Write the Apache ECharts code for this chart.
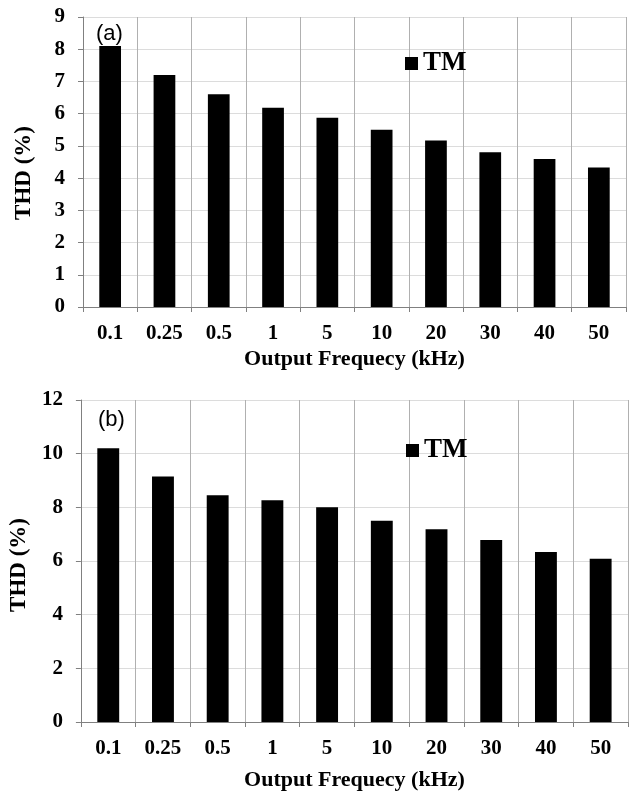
<!DOCTYPE html>
<html>
<head>
<meta charset="utf-8">
<script src="https://cdn.jsdelivr.net/npm/echarts@6/dist/echarts.min.js"></script>
<style>
  html, body { margin: 0; padding: 0; background: #fff; }
  #chart { width: 629px; height: 795px; }
</style>
</head>
<body>
<div id="chart"></div>
<script>
// categories shared by both panels
const frequencies = ['0.1', '0.25', '0.5', '1', '5', '10', '20', '30', '40', '50'];
// THD values (%)
const thdA = [8.1, 7.2, 6.6, 6.18, 5.87, 5.5, 5.17, 4.8, 4.59, 4.33];
const thdB = [10.2, 9.15, 8.45, 8.26, 8.0, 7.5, 7.18, 6.78, 6.34, 6.08];

document.addEventListener('DOMContentLoaded', function () {
    const chart = echarts.init(document.getElementById('chart'));
    const serif = '"Liberation Serif", "Times New Roman", serif';

    function xAxisFor(gridIndex, gap) {
        return {
            type: 'category',
            gridIndex: gridIndex,
            data: frequencies,
            name: 'Output Frequecy (kHz)',
            nameLocation: 'middle',
            nameGap: gap,
            nameTextStyle: { fontFamily: serif, fontWeight: 'bold', fontSize: 22, color: '#000' },
            axisLine: { lineStyle: { color: '#808080', width: 1 } },
            axisTick: { show: true, length: 5, lineStyle: { color: '#808080' } },
            axisLabel: { margin: 16, fontFamily: serif, fontWeight: 'bold', fontSize: 21, color: '#000' },
            splitLine: { show: true, lineStyle: { color: '#b0b0b0', width: 1 } }
        };
    }

    function yAxisFor(gridIndex, max, interval, gap, shift) {
        return {
            type: 'value',
            gridIndex: gridIndex,
            min: 0,
            max: max,
            interval: interval,
            name: 'THD (%)',
            nameLocation: 'middle',
            nameGap: gap,
            nameTextStyle: {
                fontFamily: serif, fontWeight: 'bold', fontSize: 23, color: '#000',
                padding: [0, shift, 0, 0]
            },
            axisLine: { show: true, lineStyle: { color: '#808080', width: 1 } },
            axisTick: { show: true, length: 5, lineStyle: { color: '#808080' } },
            axisLabel: { margin: 18, fontFamily: serif, fontWeight: 'bold', fontSize: 21, color: '#000' },
            splitLine: { show: true, lineStyle: { color: '#dcdcdc', width: 1 } }
        };
    }

    const legendStyle = {
        icon: 'rect',
        itemWidth: 13,
        itemHeight: 13,
        selectedMode: false,
        textStyle: { fontFamily: serif, fontWeight: 'bold', fontSize: 27, color: '#000' }
    };

    const option = {
        animation: false,
        backgroundColor: '#fff',
        title: [
            { text: '(a)', left: 91, top: 18,
              textStyle: { fontFamily: '"Liberation Sans", Arial, sans-serif', fontWeight: 'normal', fontSize: 22, color: '#000' } },
            { text: '(b)', left: 93, top: 404,
              textStyle: { fontFamily: '"Liberation Sans", Arial, sans-serif', fontWeight: 'normal', fontSize: 22, color: '#000' } }
        ],
        legend: [
            Object.assign({ data: ['TM'], left: 400, top: 45 }, legendStyle),
            Object.assign({ data: ['TM'], left: 401, top: 432 }, legendStyle)
        ],
        grid: [
            { left: 83, right: 3, top: 17, height: 290 },
            { left: 77, right: 1, top: 400, height: 322 }
        ],
        xAxis: [xAxisFor(0, 41), xAxisFor(1, 47)],
        yAxis: [yAxisFor(0, 9, 1, 47, 22), yAxisFor(1, 12, 2, 44, 8)],
        series: [
            {
                name: 'TM', type: 'bar', xAxisIndex: 0, yAxisIndex: 0,
                barWidth: '40%', itemStyle: { color: '#000' }, data: thdA
            },
            {
                name: 'TM', type: 'bar', xAxisIndex: 1, yAxisIndex: 1,
                barWidth: '40%', itemStyle: { color: '#000' }, data: thdB
            }
        ]
    };

    chart.setOption(option);

    window.addEventListener('resize', function () {
        chart.resize();
    });
});
</script>
</body>
</html>
